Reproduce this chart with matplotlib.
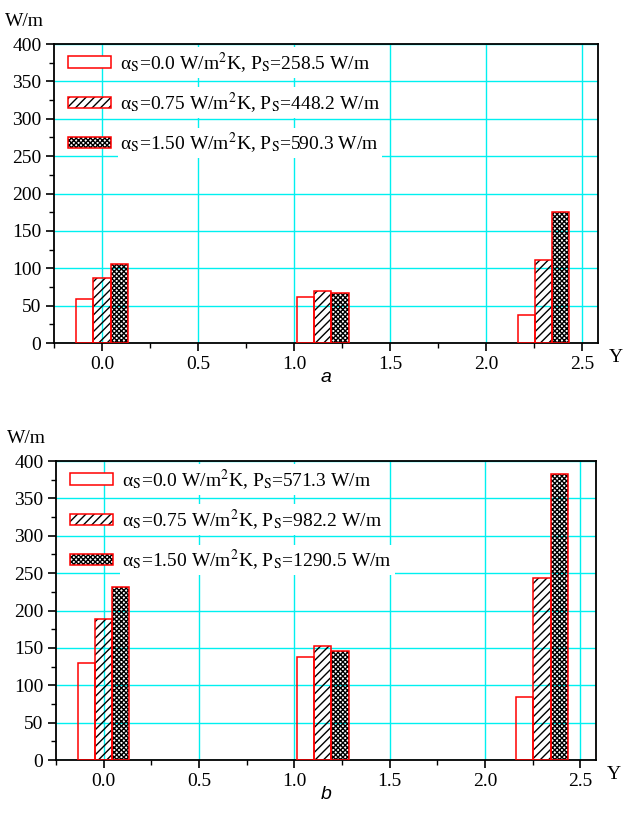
import matplotlib
matplotlib.use('Agg')
import matplotlib.pyplot as plt
from matplotlib.patches import Patch
from matplotlib.legend_handler import HandlerTuple
from matplotlib.ticker import MultipleLocator, FormatStrFormatter

plt.rcParams['font.family'] = ['Liberation Serif', 'DejaVu Serif']
plt.rcParams['mathtext.fontset'] = 'stix'
plt.rcParams['hatch.linewidth'] = 1.0

# data
positions = [0.0, 1.15, 2.30]
hatches = ['', '////', 'xxxxxxx']
offsets = [-0.09, 0.0, 0.09]

a_labels = [u'α$_{\\rm S}$=0.0 W/m$^2$K, P$_{\\rm S}$=258.5 W/m',
            u'α$_{\\rm S}$=0.75 W/m$^2$K, P$_{\\rm S}$=448.2 W/m',
            u'α$_{\\rm S}$=1.50 W/m$^2$K, P$_{\\rm S}$=590.3 W/m']
a_s000 = [59, 62, 38]
a_s075 = [87, 70, 111]
a_s150 = [106, 67, 175]

b_labels = [u'α$_{\\rm S}$=0.0 W/m$^2$K, P$_{\\rm S}$=571.3 W/m',
            u'α$_{\\rm S}$=0.75 W/m$^2$K, P$_{\\rm S}$=982.2 W/m',
            u'α$_{\\rm S}$=1.50 W/m$^2$K, P$_{\\rm S}$=1290.5 W/m']
b_s000 = [130, 138, 84]
b_s075 = [189, 153, 244]
b_s150 = [231, 146, 383]

width = 0.09
fig = plt.figure(figsize=(6.25, 8.32), dpi=100)
ax_a = fig.add_axes([0.0864, 0.5877, 0.870, 0.3594])
ax_b = fig.add_axes([0.0896, 0.0865, 0.864, 0.3594])


def draw_panel(ax, series, labels, tag):
    ax.set_xlim(-0.25, 2.583)
    ax.set_ylim(0, 400)
    ax.xaxis.set_major_locator(MultipleLocator(0.5))
    ax.xaxis.set_minor_locator(MultipleLocator(0.25))
    ax.yaxis.set_major_locator(MultipleLocator(50))
    ax.yaxis.set_minor_locator(MultipleLocator(25))
    ax.xaxis.set_major_formatter(FormatStrFormatter('%.1f'))
    ax.grid(True, which='major', color='#00f0f0', linewidth=1.0, zorder=0)
    ax.set_axisbelow(True)
    ax.tick_params(which='major', direction='out', length=6, width=1.2,
                   labelsize=14, top=False, right=False, pad=3)
    ax.tick_params(which='minor', direction='out', length=3.5, width=1.0,
                   top=False, right=False)
    for sp in ax.spines.values():
        sp.set_linewidth(1.3)

    handles = []
    for vals, off, h in zip(series, offsets, hatches):
        xs = [p + off for p in positions]
        if h:
            ax.bar(xs, vals, width, facecolor='none', edgecolor='black',
                   hatch=h, linewidth=0, zorder=2)
        ax.bar(xs, vals, width, facecolor='none', edgecolor='red',
               linewidth=1.1, zorder=3)
        bg = Patch(facecolor='white', edgecolor='black', hatch=h, linewidth=0)
        fr = Patch(facecolor='none', edgecolor='red', linewidth=1.1)
        handles.append((bg, fr))

    leg = ax.legend(handles, labels, handler_map={tuple: HandlerTuple(ndivide=1, pad=0)},
                    loc='upper left', bbox_to_anchor=(-0.005, 1.035), frameon=False,
                    fontsize=14, handlelength=2.2, handleheight=0.55,
                    labelspacing=0.78, handletextpad=0.5, borderaxespad=0.45)
    for t in leg.get_texts():
        t.set_bbox(dict(facecolor='white', edgecolor='none', pad=2))
    leg.set_zorder(5)

    ax.text(-0.09, 1.075, 'W/m', transform=ax.transAxes, fontsize=14,
            ha='left', va='center')
    ax.text(1.02, -0.05, 'Y', transform=ax.transAxes, fontsize=14,
            ha='left', va='center')
    ax.text(0.5, -0.115, tag, transform=ax.transAxes, fontsize=14,
            family='Liberation Sans', style='italic', ha='center', va='center')


draw_panel(ax_a, [a_s000, a_s075, a_s150], a_labels, 'a')
draw_panel(ax_b, [b_s000, b_s075, b_s150], b_labels, 'b')

fig.savefig('out.png', dpi=100)
